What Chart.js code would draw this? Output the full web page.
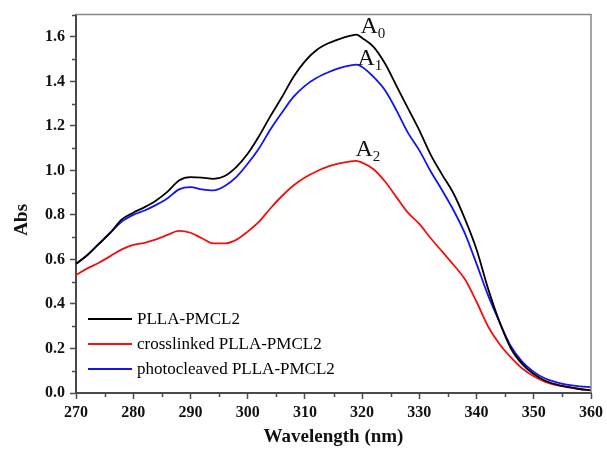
<!DOCTYPE html>
<html>
<head>
<meta charset="utf-8">
<script src="https://cdn.jsdelivr.net/npm/chart.js@4/dist/chart.umd.min.js"></script>
<style>
  html, body { margin: 0; padding: 0; background: #fff; }
  #wrap { width: 607px; height: 450px; }
</style>
</head>
<body>
<div id="wrap"><canvas id="c" width="607" height="450"></canvas></div>
<script>
// ---- Data ----
const wavelengths = [270,272,274,276,278,280,282,284,286,288,290,292,294,296,298,300,302,304,306,308,310,312,314,316,318,319,
                     320,322,324,326,328,330,332,334,336,338,340,342,344,346,348,350,352,354,356,358,360];
const absPLLA = [0.58,0.62,0.67,0.72,0.78,0.81,0.835,0.865,0.905,0.955,0.97,0.968,0.962,0.975,1.015,1.075,1.155,1.245,1.33,1.42,1.49,1.54,1.57,1.59,1.605,1.61,
                 1.595,1.555,1.48,1.38,1.28,1.18,1.07,0.98,0.895,0.78,0.645,0.47,0.32,0.20,0.13,0.085,0.055,0.038,0.027,0.018,0.012];
const absCrosslinked = [0.53,0.56,0.585,0.615,0.645,0.665,0.675,0.69,0.71,0.728,0.72,0.695,0.672,0.672,0.688,0.725,0.77,0.83,0.885,0.932,0.968,0.995,1.017,1.032,1.041,1.043,
                        1.035,1.005,0.95,0.88,0.81,0.76,0.695,0.635,0.575,0.51,0.41,0.30,0.22,0.16,0.11,0.075,0.05,0.035,0.025,0.018,0.012];
const absPhotocleaved = [0.58,0.62,0.67,0.72,0.77,0.80,0.82,0.845,0.875,0.915,0.925,0.915,0.91,0.93,0.97,1.03,1.10,1.185,1.26,1.33,1.38,1.415,1.44,1.46,1.472,1.475,
                         1.465,1.42,1.36,1.27,1.17,1.09,0.995,0.91,0.82,0.715,0.58,0.44,0.32,0.21,0.14,0.095,0.065,0.048,0.036,0.03,0.026];
const seriesLabels = ['PLLA-PMCL2', 'crosslinked PLLA-PMCL2', 'photocleaved PLLA-PMCL2'];
const peakSubscripts = ['0', '2', '1'];
const xTicks = [270,280,290,300,310,320,330,340,350,360];
const xMinorTicks = [275,285,295,305,315,325,335,345,355];
const yTicks = [0,0.2,0.4,0.6,0.8,1.0,1.2,1.4,1.6];
const yMinorTicks = [0.1,0.3,0.5,0.7,0.9,1.1,1.3,1.5,1.7];
const xTitle = 'Wavelength (nm)';
const yTitle = 'Abs';

const SERIF = '"Liberation Serif", "Times New Roman", serif';
const AXIS_COLOR = '#4a4a4a';
const colors = ['#000000', '#ee1111', '#1414ee'];
const seriesData = [absPLLA, absCrosslinked, absPhotocleaved];

const datasets = seriesData.map((arr, k) => ({
  label: seriesLabels[k],
  data: wavelengths.map((w, i) => ({ x: w, y: arr[i] })),
  borderColor: colors[k],
  backgroundColor: colors[k],
  borderWidth: 1.8,
  pointRadius: 0,
  cubicInterpolationMode: 'monotone',
  fill: false
}));

// frame (top/right), minor ticks, y title
const framePlugin = {
  id: 'frame',
  afterDraw(chart) {
    const { ctx, chartArea: a, scales: { x, y } } = chart;
    ctx.save();
    ctx.strokeStyle = '#888';
    ctx.lineWidth = 1.5;
    ctx.beginPath();
    ctx.moveTo(a.left, a.top);
    ctx.lineTo(a.right, a.top);
    ctx.lineTo(a.right, a.bottom);
    ctx.stroke();
    ctx.strokeStyle = AXIS_COLOR;
    ctx.lineWidth = 1.5;
    ctx.beginPath();
    xMinorTicks.forEach(v => {
      const px = Math.round(x.getPixelForValue(v)) + 0.5;
      ctx.moveTo(px, a.bottom);
      ctx.lineTo(px, a.bottom + 4);
    });
    yMinorTicks.forEach(v => {
      const py = Math.round(y.getPixelForValue(v)) + 0.5;
      ctx.moveTo(a.left, py);
      ctx.lineTo(a.left - 4, py);
    });
    ctx.stroke();
    // y axis title
    ctx.translate(22, (a.top + a.bottom) / 2 + 16);
    ctx.rotate(-Math.PI / 2);
    ctx.fillStyle = '#111';
    ctx.font = 'bold 19px ' + SERIF;
    ctx.textAlign = 'center';
    ctx.textBaseline = 'middle';
    ctx.fillText(yTitle, 0, 0);
    ctx.restore();
  }
};

// legend inside plot and peak labels
const annotPlugin = {
  id: 'annot',
  afterDatasetsDraw(chart) {
    const { ctx, chartArea: a, scales: { x, y } } = chart;
    ctx.save();
    const rowOffsets = [74, 49, 24];
    chart.data.datasets.forEach((ds, k) => {
      const ly = a.bottom - rowOffsets[k];
      ctx.strokeStyle = ds.borderColor;
      ctx.lineWidth = 2;
      ctx.beginPath();
      ctx.moveTo(a.left + 12, ly);
      ctx.lineTo(a.left + 56, ly);
      ctx.stroke();
      ctx.fillStyle = '#000';
      ctx.font = '17px ' + SERIF;
      ctx.textBaseline = 'middle';
      ctx.textAlign = 'left';
      ctx.fillText(ds.label, a.left + 61, ly + 1);
    });
    const offsets = [[4, -2], [-1, -5], [1, 0]];
    chart.data.datasets.forEach((ds, k) => {
      let best = ds.data[0];
      ds.data.forEach(p => { if (p.y > best.y) best = p; });
      const px = x.getPixelForValue(best.x) + offsets[k][0];
      const py = y.getPixelForValue(best.y) + offsets[k][1];
      ctx.fillStyle = '#111';
      ctx.textBaseline = 'alphabetic';
      ctx.textAlign = 'left';
      ctx.font = '24px ' + SERIF;
      ctx.fillText('A', px, py);
      const w = ctx.measureText('A').width;
      ctx.font = '15px ' + SERIF;
      ctx.fillText(peakSubscripts[k], px + w, py + 5);
    });
    ctx.restore();
  }
};

new Chart(document.getElementById('c'), {
  type: 'line',
  data: { datasets },
  options: {
    responsive: false,
    animation: false,
    devicePixelRatio: 1,
    layout: { padding: { top: 8, right: 13, left: 0, bottom: 0 } },
    plugins: { legend: { display: false }, tooltip: { enabled: false } },
    scales: {
      x: {
        type: 'linear',
        min: 270, max: 360,
        afterBuildTicks: s => { s.ticks = xTicks.map(v => ({ value: v })); },
        afterFit: s => { s.height = 57; },
        ticks: {
          color: '#111',
          font: { family: SERIF, size: 16, weight: 'bold' },
          padding: 4,
          maxRotation: 0,
          callback: v => String(v)
        },
        grid: { display: true, drawOnChartArea: false, drawTicks: true, tickLength: 6, tickColor: AXIS_COLOR, tickWidth: 1.5 },
        border: { display: true, color: AXIS_COLOR, width: 2 },
        title: {
          display: true, text: xTitle, color: '#111',
          font: { family: SERIF, size: 19, weight: 'bold' },
          padding: { top: 0, bottom: 2 }
        }
      },
      y: {
        type: 'linear',
        min: 0, max: 1.7,
        afterBuildTicks: s => { s.ticks = yTicks.map(v => ({ value: v })); },
        afterFit: s => { s.width = 76; },
        ticks: {
          color: '#111',
          font: { family: SERIF, size: 16, weight: 'bold' },
          padding: 5,
          callback: v => Number(v).toFixed(1)
        },
        grid: { display: true, drawOnChartArea: false, drawTicks: true, tickLength: 6, tickColor: AXIS_COLOR, tickWidth: 1.5 },
        border: { display: true, color: AXIS_COLOR, width: 2 },
        title: { display: false }
      }
    }
  },
  plugins: [framePlugin, annotPlugin]
});
</script>
</body>
</html>
